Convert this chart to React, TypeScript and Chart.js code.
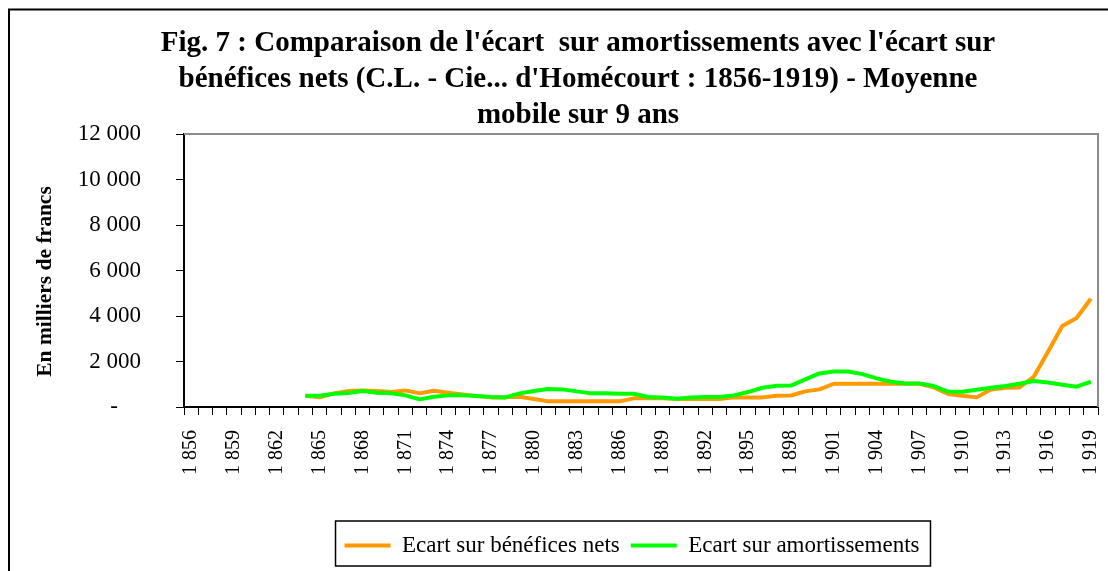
import React, { useEffect, useRef } from 'react';
import { Chart, registerables } from 'chart.js';

Chart.register(...registerables);

const years = [
  1856, 1857, 1858, 1859, 1860, 1861, 1862, 1863, 1864, 1865, 1866, 1867, 1868, 1869, 1870, 1871,
  1872, 1873, 1874, 1875, 1876, 1877, 1878, 1879, 1880, 1881, 1882, 1883, 1884, 1885, 1886, 1887,
  1888, 1889, 1890, 1891, 1892, 1893, 1894, 1895, 1896, 1897, 1898, 1899, 1900, 1901, 1902, 1903,
  1904, 1905, 1906, 1907, 1908, 1909, 1910, 1911, 1912, 1913, 1914, 1915, 1916, 1917, 1918, 1919,
];

// Ecart sur bénéfices nets (moyenne mobile 9 ans), milliers de francs
const beneficesNets = [
  null, null, null, null, null, null, null, null,
  496, 423, 599, 701, 730, 701, 657, 730, 599, 715, 628, 555, 482, 423, 423, 453,
  350, 248, 248, 248, 248, 248, 248, 380, 380, 380, 350, 350, 350, 350, 423, 423,
  423, 496, 505, 686, 774, 1022, 1022, 1022, 1022, 1022, 1022, 1022, 861, 569, 496, 423,
  774, 847, 861, 1329, 2424, 3562, 3913, 4760,
];

// Ecart sur amortissements (moyenne mobile 9 ans), milliers de francs
const amortissements = [
  null, null, null, null, null, null, null, null,
  496, 496, 584, 613, 701, 628, 599, 511, 336, 453, 511, 511, 482, 445, 423, 599,
  701, 789, 774, 686, 599, 599, 584, 584, 438, 423, 365, 423, 438, 438, 511, 657,
  847, 935, 940, 1212, 1475, 1562, 1562, 1445, 1256, 1110, 1037, 1037, 920, 672, 672, 759,
  847, 920, 1022, 1139, 1080, 978, 891, 1110,
];

const seriesLabels = ['Ecart sur bénéfices nets', 'Ecart sur amortissements'];
const seriesColors = ['#FF9900', '#00FF00'];
const titleLines = [
  "Fig. 7 : Comparaison de l'écart  sur amortissements avec l'écart sur",
  "bénéfices nets (C.L. - Cie... d'Homécourt : 1856-1919) - Moyenne",
  'mobile sur 9 ans',
];
const yAxisTitle = 'En milliers de francs';
const yMin = 0;
const yMax = 12000;
const yStep = 2000;
const labelEvery = 3;

const FONT = "'Liberation Serif', 'Times New Roman', serif";

function fmtThousands(n: number): string {
  const s = Math.round(n).toString();
  return s.replace(/\B(?=(\d{3})+(?!\d))/g, ' ');
}

const framePlugin = {
  id: 'framePlugin',
  beforeDraw(chart: any) {
    const ctx = chart.ctx;
    ctx.save();
    ctx.fillStyle = '#ffffff';
    ctx.fillRect(0, 0, chart.width, chart.height);
    ctx.strokeStyle = '#000000';
    ctx.lineWidth = 2;
    ctx.strokeRect(9, 9.5, chart.width + 20, chart.height + 20);
    ctx.restore();
  },
  afterUpdate(chart: any) {
    const t = chart.titleBlock;
    if (t) {
      const dx = 578 - (t.left + t.right) / 2;
      t.left += dx;
      t.right += dx;
    }
    const l = chart.legend;
    chart.$legendFrame = null;
    if (l && l.legendHitBoxes && l.legendHitBoxes.length) {
      const hb = l.legendHitBoxes;
      const first = hb[0];
      const last = hb[hb.length - 1];
      const cur = (first.left + last.left + last.width) / 2;
      const dx = 632 - cur;
      l.left += dx;
      l.right += dx;
      chart.$legendFrame = {
        x0: first.left + dx - 9,
        x1: last.left + last.width + dx + 11,
        y0: l.top - 2,
        y1: l.top + 43,
      };
    }
  },
  beforeDatasetsDraw(chart: any) {
    const { ctx, chartArea } = chart;
    ctx.save();
    ctx.strokeStyle = '#8c8c8c';
    ctx.lineWidth = 2;
    ctx.beginPath();
    ctx.moveTo(chartArea.left, chartArea.top);
    ctx.lineTo(chartArea.right, chartArea.top);
    ctx.lineTo(chartArea.right, chartArea.bottom);
    ctx.stroke();
    ctx.restore();
  },
  afterDraw(chart: any) {
    const ctx = chart.ctx;
    const f = chart.$legendFrame;
    if (f) {
      ctx.save();
      ctx.strokeStyle = '#000000';
      ctx.lineWidth = 1.5;
      ctx.strokeRect(f.x0, f.y0, f.x1 - f.x0, f.y1 - f.y0);
      ctx.restore();
    }
    // Y axis title (vertical, bottom-to-top)
    const { chartArea } = chart;
    ctx.save();
    ctx.translate(45, (chartArea.top + chartArea.bottom) / 2 + 11);
    ctx.rotate(-Math.PI / 2);
    ctx.fillStyle = '#000';
    ctx.font = `bold 21.5px ${FONT}`;
    ctx.textAlign = 'center';
    ctx.textBaseline = 'middle';
    ctx.fillText(yAxisTitle, 0, 0);
    ctx.restore();
  },
};

export default function App() {
  const canvasRef = useRef<HTMLCanvasElement | null>(null);

  useEffect(() => {
    const canvas = canvasRef.current;
    if (!canvas) return;
    const chart = new Chart(canvas, {
      type: 'line',
      data: {
        labels: years.map(String),
        datasets: [
          {
            label: seriesLabels[0],
            data: beneficesNets,
            borderColor: seriesColors[0],
            backgroundColor: seriesColors[0],
            borderWidth: 4,
            pointRadius: 0,
            tension: 0,
            fill: false,
            order: 1,
            borderJoinStyle: 'round',
          },
          {
            label: seriesLabels[1],
            data: amortissements,
            borderColor: seriesColors[1],
            backgroundColor: seriesColors[1],
            borderWidth: 4,
            pointRadius: 0,
            tension: 0,
            fill: false,
            order: 0,
            borderJoinStyle: 'round',
          },
        ],
      },
      options: {
        responsive: false,
        animation: false,
        devicePixelRatio: 1,
        layout: { padding: { top: 26, left: 30, right: 10, bottom: 4 } },
        plugins: {
          title: {
            display: true,
            text: titleLines,
            color: '#000',
            font: { family: FONT, size: 29, weight: 'bold', lineHeight: '36px' },
            padding: { top: 0, bottom: 0 },
          },
          legend: {
            display: true,
            position: 'bottom',
            labels: {
              color: '#000',
              font: { family: FONT, size: 23 },
              boxWidth: 46,
              boxHeight: 4,
              padding: 11,
              generateLabels: (ch: any) =>
                ch.data.datasets.map((ds: any, i: number) => ({
                  text: ds.label,
                  fillStyle: ds.borderColor,
                  strokeStyle: ds.borderColor,
                  lineWidth: 0,
                  hidden: false,
                  datasetIndex: i,
                  fontColor: '#000',
                })),
            },
          },
          tooltip: { enabled: false },
        },
        scales: {
          x: {
            type: 'category',
            offset: true,
            grid: {
              display: true,
              offset: true,
              drawOnChartArea: false,
              drawTicks: true,
              tickLength: 8,
              color: '#000',
              lineWidth: 1,
            },
            border: { display: true, color: '#000', width: 2 },
            ticks: {
              autoSkip: false,
              minRotation: 90,
              maxRotation: 90,
              padding: 15,
              color: '#000',
              font: { family: FONT, size: 20 },
              callback: (_v: any, i: number) => (i % labelEvery === 0 ? fmtThousands(years[i]) : ''),
            },
            afterFit: (scale: any) => {
              scale.height = 116;
              scale.paddingLeft = 0;
              scale.paddingRight = 0;
            },
          },
          y: {
            type: 'linear',
            min: yMin,
            max: yMax,
            grid: {
              display: true,
              drawOnChartArea: false,
              drawTicks: true,
              tickLength: 8,
              color: '#000',
              lineWidth: 1,
            },
            border: { display: true, color: '#000', width: 2 },
            ticks: {
              stepSize: yStep,
              padding: 35,
              color: '#000',
              font: { family: FONT, size: 23 },
              callback: (v: any) => (Number(v) === 0 ? '-    ' : fmtThousands(Number(v))),
            },
            title: { display: false },
            afterFit: (scale: any) => {
              scale.width = 154;
            },
          },
        },
      },
      plugins: [framePlugin],
    });
    return () => chart.destroy();
  }, []);

  return (
    <div style={{ position: 'absolute', left: 0, top: 0, width: 1108, height: 571 }}>
      <canvas ref={canvasRef} width={1108} height={571} style={{ display: 'block' }} />
    </div>
  );
}
